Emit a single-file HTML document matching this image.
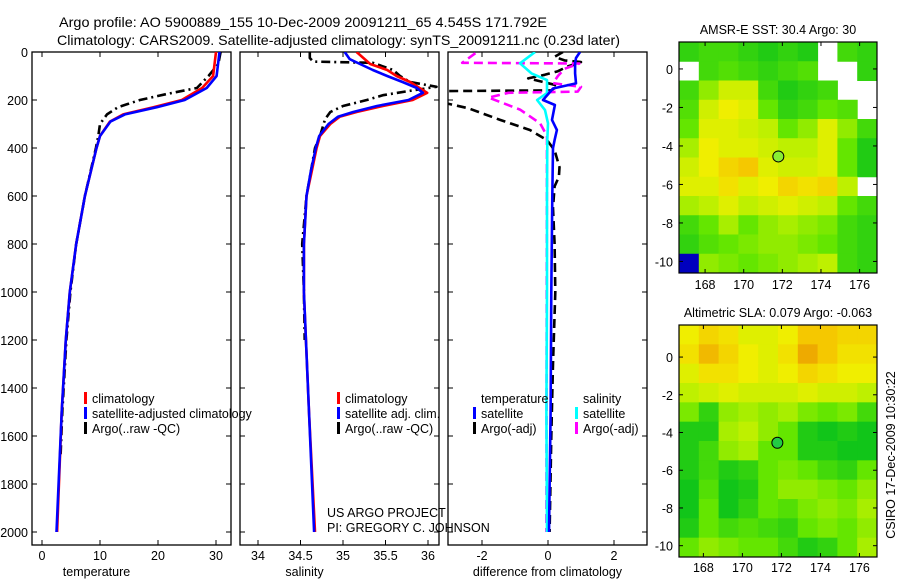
<!DOCTYPE html>
<html><head><meta charset="utf-8"><style>
body{margin:0;background:#fff;}
svg{display:block;font-family:"Liberation Sans",sans-serif;}
</style></head><body>
<svg id="fig" width="900" height="580" viewBox="0 0 900 580" xmlns="http://www.w3.org/2000/svg">
<rect width="900" height="580" fill="#fff"/>
<text x="59" y="27" font-size="14" textLength="488" lengthAdjust="spacingAndGlyphs">Argo profile: AO 5900889_155 10-Dec-2009 20091211_65 4.545S 171.792E</text>
<text x="57" y="45" font-size="14" textLength="563" lengthAdjust="spacingAndGlyphs">Climatology: CARS2009. Satellite-adjusted climatology: synTS_20091211.nc (0.23d later)</text>
<g id="plots"></g>
</svg>
<script>
// ---------- data ----------
const tempClimDepth=[0,100,150,200,230,260,290,350,400,600,800,1000,1200,1500,2000];
const tempClimVal=[30.0,29.5,27.6,24.1,19.2,14.0,11.7,10.0,9.4,7.4,5.9,4.8,4.1,3.4,2.6];
const tempSatDepth=[0,100,150,200,230,260,290,350,400,600,800,1000,1200,1500,2000];
const tempSatVal=[30.6,30.1,28.4,24.6,19.8,14.3,11.8,10.0,9.4,7.4,5.9,4.8,4.1,3.4,2.5];
const tempArgoDepth=[0,50,100,150,175,200,230,260,300,350,400,600,800,1000,1200,1500,1680];
const tempArgoVal=[30.8,30.4,28.7,26.7,21.5,16.9,13.1,11.2,10.0,9.7,9.3,7.4,5.9,4.9,4.2,3.5,3.2];

const salClimDepth=[0,50,75,100,125,150,170,200,225,250,270,300,350,400,500,600,800,1000,1500,2000];
const salClimVal=[35.16,35.32,35.52,35.63,35.79,35.90,35.99,35.82,35.47,35.16,34.96,34.85,34.73,34.69,34.63,34.57,34.54,34.54,34.6,34.67];
const salSatDepth=[0,30,50,75,100,125,150,170,200,225,250,270,300,350,400,500,600,800,1000,1500,2000];
const salSatVal=[35.02,35.08,35.2,35.35,35.52,35.70,35.87,35.94,35.77,35.40,35.12,34.94,34.83,34.72,34.68,34.62,34.57,34.54,34.54,34.6,34.66];
const salArgoDepth=[0,25,40,45,75,100,125,145,160,180,200,225,250,280,350,400,600,800,1000,1200];
const salArgoVal=[34.61,34.61,34.65,35.35,35.59,35.67,35.79,36.1,35.82,35.47,35.28,35.0,34.85,34.79,34.73,34.67,34.57,34.52,34.54,34.55];

const dTSatDepth=[0,25,47,89,131,152,200,221,283,325,367,400,600,1000,1500,2000];
const dTSatVal=[0.97,0.85,0.82,0.82,0.85,0.15,-0.15,0.21,0.12,0.27,0.2,0.15,0.13,0.1,0.08,0.03];
const dTArgoDepth=[0,20,35,42,60,80,95,110,140,160,163,210,235,283,325,367,410,480,520,560,650,800,1000,1300,1600,2000];
const dTArgoVal=[0.45,0.2,0.5,1.0,0.6,0.3,-0.1,-0.6,0.3,0.1,-3.2,-3.2,-2.4,-1.45,-0.55,-0.03,0.2,0.35,0.33,0.2,0.15,0.2,0.22,0.15,0.1,0.05];
const dSSatDepth=[0,47,89,117,171,200,242,297,367,600,1000,1500,2000];
const dSSatVal=[-0.39,-0.85,-0.5,-0.03,-0.03,-0.33,-0.09,0.0,-0.02,-0.03,-0.03,-0.05,-0.03];
const dSArgoDepth=[5,45,48,70,100,130,145,165,170,190,240,297,350,1000,2000];
const dSArgoVal=[-2.2,-2.6,0.95,0.5,0.3,0.15,1.0,0.9,-1.2,-1.8,-0.85,-0.24,-0.03,-0.04,-0.05];

const depthTicks=[0,200,400,600,800,1000,1200,1400,1600,1800,2000];
const tempTicks=[0,10,20,30];
const salTicks=[34,34.5,35,35.5,36];
const salTickLabels=["34","34.5","35","35.5","36"];
const diffTicks=[-2,0,2];

const lonTicks=[168,170,172,174,176];
const latTicks=[0,-2,-4,-6,-8,-10];
const sstGrid=[
[0.15,0.2,0.2,0.15,0.1,0.15,0.1,null,0.2,0.15],
[null,0.2,0.25,0.2,0.15,0.2,0.25,null,null,0.15],
[0.2,0.4,0.55,0.55,0.2,0.1,0.15,0.2,null,null],
[0.25,0.55,0.65,0.6,0.3,0.15,0.2,0.3,0.25,null],
[0.3,0.6,0.6,0.55,0.5,0.3,0.4,0.6,0.4,0.2],
[0.45,0.65,0.6,0.6,0.55,0.5,0.5,0.6,0.3,0.1],
[0.55,0.65,0.75,0.8,0.6,0.55,0.55,0.6,0.3,0.1],
[0.6,0.6,0.7,0.6,0.65,0.75,0.7,0.75,0.5,null],
[0.45,0.5,0.6,0.5,0.55,0.6,0.55,0.5,0.3,0.2],
[0.2,0.3,0.45,0.3,0.4,0.45,0.4,0.35,0.2,0.15],
[0.15,0.25,0.3,0.35,0.4,0.4,0.35,0.3,0.2,0.15],
[-0.5,0.4,0.35,0.3,0.35,0.4,0.45,0.5,0.2,0.15]];
const slaGrid=[
[0.65,0.75,0.7,0.6,0.6,0.65,0.8,0.8,0.75,0.75],
[0.7,0.85,0.75,0.65,0.6,0.7,0.9,0.8,0.7,0.7],
[0.6,0.7,0.7,0.65,0.6,0.65,0.75,0.7,0.65,0.65],
[0.5,0.55,0.6,0.55,0.55,0.55,0.6,0.55,0.55,0.5],
[0.35,0.15,0.4,0.45,0.4,0.45,0.35,0.3,0.35,0.2],
[0.1,0.1,0.45,0.5,0.4,0.3,0.1,0.05,0.1,0.05],
[0.1,0.2,0.4,0.45,0.3,0.3,0.1,0.1,0.05,0.05],
[0.1,0.2,0.1,0.15,0.3,0.35,0.3,0.2,0.15,0.3],
[0.05,0.25,0.05,0.1,0.3,0.4,0.4,0.35,0.3,0.4],
[0.05,0.3,0.05,0.15,0.3,0.25,0.35,0.4,0.35,0.45],
[0.1,0.3,0.2,0.25,0.2,0.15,0.3,0.35,0.3,0.4],
[0.3,0.4,0.35,0.3,0.3,0.2,0.1,0.15,0.3,0.45]];
const argoLon=171.792, argoLat=-4.545;

// ---------- helpers ----------
const NS="http://www.w3.org/2000/svg";
const FS=12.5;
const root=document.getElementById('plots');
function mk(tag,attrs,parent){const e=document.createElementNS(NS,tag);for(const k in attrs)e.setAttribute(k,attrs[k]);(parent||root).appendChild(e);return e;}
const PT=52,PB=545;
const yD=d=>52+d*0.24;

function panel(name,x0,x1,xs,ticks,labels,xlabel,leftLabels){
  const g=mk('g',{});
  
  
  const fr=mk('rect',{x:x0,y:PT,width:x1-x0,height:PB-PT,fill:'none',stroke:'#000','stroke-width':1.3},g);
  
  
  depthTicks.forEach(d=>{
    const y=yD(d);
    mk('line',{x1:x0,x2:x0+5,y1:y,y2:y,stroke:'#000'},g);
    mk('line',{x1:x1-5,x2:x1,y1:y,y2:y,stroke:'#000'},g);
    if(leftLabels){const t=mk('text',{x:x0-4,y:y+5,'font-size':FS,'text-anchor':'end'},g);t.textContent=d;
      
      }
  });
  ticks.forEach((v,i)=>{
    const x=xs(v);
    mk('line',{x1:x,x2:x,y1:PB,y2:PB-5,stroke:'#000'},g);
    mk('line',{x1:x,x2:x,y1:PT,y2:PT+5,stroke:'#000'},g);
    const t=mk('text',{x:x,y:560,'font-size':FS,'text-anchor':'middle'},g);t.textContent=labels[i];
    
    
  });
  const xl=mk('text',{x:(x0+x1)/2-(name==='difference-panel'?0:35),y:576,'font-size':FS,'text-anchor':'middle'},g);
  xl.textContent=xlabel;
  
  
  return g;
}
function series(g,name,depths,vals,xs,color,dash,clip){
  const pts=depths.map((d,i)=>xs(vals[i]).toFixed(1)+','+yD(d).toFixed(1)).join(' ');
  const p=mk('polyline',{points:pts,fill:'none',stroke:color,'stroke-width':2.6,'stroke-linejoin':'round','clip-path':'url(#'+clip+')'},g);
  if(dash)p.setAttribute('stroke-dasharray',dash);
  
  
}
function legend(g,x,y,color,label){
  mk('rect',{x:x,y:y-11,width:3,height:12,fill:color},g);
  const t=mk('text',{x:x+8,y:y,'font-size':FS},g);t.textContent=label;
  
  
}
const defs=mk('defs',{});
[['c1',32,231],['c2',240,439],['c3',448,647]].forEach(c=>{const cp=mk('clipPath',{id:c[0]},defs);mk('rect',{x:c[1],y:PT,width:c[2]-c[1],height:PB-PT},cp);});

// temperature panel
const xT=v=>42+v*5.8;
const g1=panel('temperature-panel',32,231,xT,tempTicks,tempTicks.map(String),'temperature',true);
series(g1,'temp-argo-line',tempArgoDepth,tempArgoVal,xT,'#000','9,4,2,4','c1');
series(g1,'temp-climatology-line',tempClimDepth,tempClimVal,xT,'#f00',null,'c1');
series(g1,'temp-satellite-line',tempSatDepth,tempSatVal,xT,'#00f',null,'c1');
legend(g1,84,403,'#f00','climatology');
legend(g1,84,418,'#00f','satellite-adjusted climatology');
legend(g1,84,433,'#000','Argo(..raw -QC)');

// salinity panel
const xS=v=>258+(v-34)*85;
const g2=panel('salinity-panel',240,439,xS,salTicks,salTickLabels,'salinity',false);
series(g2,'sal-argo-line',salArgoDepth,salArgoVal,xS,'#000','9,4,2,4','c2');
series(g2,'sal-climatology-line',salClimDepth,salClimVal,xS,'#f00',null,'c2');
series(g2,'sal-satellite-line',salSatDepth,salSatVal,xS,'#00f',null,'c2');
legend(g2,337,403,'#f00','climatology');
legend(g2,337,418,'#00f','satellite adj. clim.');
legend(g2,337,433,'#000','Argo(..raw -QC)');
const c1=mk('text',{x:327,y:517,'font-size':FS},g2);c1.textContent='US ARGO PROJECT';


const c2=mk('text',{x:327,y:532,'font-size':FS},g2);c2.textContent='PI: GREGORY C. JOHNSON';



// difference panel
const xDf=v=>548+v*33;
const g3=panel('difference-panel',448,647,xDf,diffTicks,diffTicks.map(String),'difference from climatology',false);
series(g3,'dtemp-argo-line',dTArgoDepth,dTArgoVal,xDf,'#000','9,5','c3');
series(g3,'dsal-argo-line',dSArgoDepth,dSArgoVal,xDf,'#f0f','9,5','c3');
series(g3,'dsal-satellite-line',dSSatDepth,dSSatVal,xDf,'#0ff',null,'c3');
series(g3,'dtemp-satellite-line',dTSatDepth,dTSatVal,xDf,'#00f',null,'c3');
const h1=mk('text',{x:481,y:403,'font-size':FS},g3);h1.textContent='temperature';


const h2=mk('text',{x:583,y:403,'font-size':FS},g3);h2.textContent='salinity';


legend(g3,473,418,'#00f','satellite');
legend(g3,473,433,'#000','Argo(-adj)');
legend(g3,575,418,'#0ff','satellite');
legend(g3,575,433,'#f0f','Argo(-adj)');

// ---------- maps ----------
const stops=[[-0.5,[0,0,190]],[0,[0,190,30]],[0.3,[100,230,0]],[0.5,[190,240,0]],[0.65,[240,238,0]],[0.8,[245,200,0]],[1,[230,140,0]]];
function cmap(v){
  if(v<=stops[0][0])return 'rgb('+stops[0][1]+')';
  for(let i=1;i<stops.length;i++){if(v<=stops[i][0]){const a=stops[i-1],b=stops[i],t=(v-a[0])/(b[0]-a[0]);
    return 'rgb('+a[1].map((c,j)=>Math.round(c+(b[1][j]-c)*t)).join(',')+')';}}
  return 'rgb('+stops[stops.length-1][1]+')';
}
function map(name,x0,x1,y0,y1,lonA,lonB,latA,latB,grid,title,mcol,labY){
  const g=mk('g',{});
  
  
  const xs=lo=>x0+(lo-lonA)/(lonB-lonA)*(x1-x0);
  const ys=la=>y0+(latA-la)/(latA-latB)*(y1-y0);
  const rows=grid.length,cols=grid[0].length;
  const cw=(x1-x0)/cols,ch=(y1-y0)/rows;
  grid.forEach((row,r)=>row.forEach((v,c)=>{
    if(v===null)return;
    const cell=mk('rect',{x:x0+c*cw,y:y0+r*ch,width:cw+0.5,height:ch+0.5,fill:cmap(v)},g);
    
    
  }));
  mk('rect',{x:x0,y:y0,width:x1-x0,height:y1-y0,fill:'none',stroke:'#000','stroke-width':1.2},g);
  lonTicks.forEach(lo=>{const x=xs(lo);
    mk('line',{x1:x,x2:x,y1:y1,y2:y1-4,stroke:'#000'},g);mk('line',{x1:x,x2:x,y1:y0,y2:y0+4,stroke:'#000'},g);
    const t=mk('text',{x:x,y:labY,'font-size':FS,'text-anchor':'middle'},g);t.textContent=lo;
    
    });
  latTicks.forEach(la=>{const y=ys(la);
    mk('line',{x1:x0,x2:x0+4,y1:y,y2:y,stroke:'#000'},g);mk('line',{x1:x1,x2:x1-4,y1:y,y2:y,stroke:'#000'},g);
    const t=mk('text',{x:x0-6,y:y+5,'font-size':FS,'text-anchor':'end'},g);t.textContent=la;
    
    });
  const m=mk('circle',{cx:xs(argoLon),cy:ys(argoLat),r:5.5,fill:mcol,stroke:'#000','stroke-width':1},g);
  
  
  const tt=mk('text',{x:(x0+x1)/2,y:y0-8,'font-size':12.5,'text-anchor':'middle'},g);tt.textContent=title;
  
  
}
map('sst-map',679,877,42,273,166.65,176.9,1.4,-10.6,sstGrid,'AMSR-E SST: 30.4 Argo: 30','#8e3',289);
map('sla-map',679,877,325,557,166.75,176.9,1.7,-10.6,slaGrid,'Altimetric SLA: 0.079 Argo: -0.063','#2c4',572);
const cs=mk('text',{x:0,y:0,'font-size':FS,'text-anchor':'middle',transform:'translate(895,455) rotate(-90)'});
cs.textContent='CSIRO 17-Dec-2009 10:30:22';


</script>
</body></html>
